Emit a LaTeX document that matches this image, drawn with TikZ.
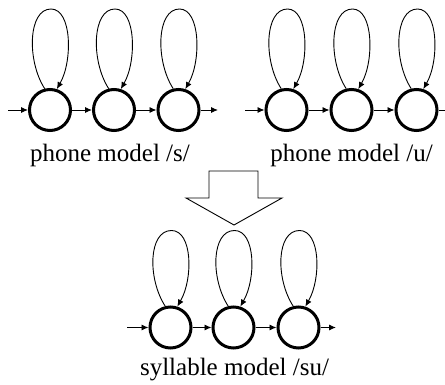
\documentclass[tikz,border=0pt]{standalone}
\usepackage{fontspec}
\setmainfont{Liberation Serif}
\usetikzlibrary{arrows.meta}

\tikzset{
  state/.style={circle, draw, line width=3pt, minimum size=41pt, inner sep=0pt},
  trans/.style={line width=0.9pt, -{Latex[length=7pt,width=6pt]}},
  modellabel/.style={anchor=base, inner sep=0pt, font=\fontsize{25}{30}\selectfont},
}

\begin{document}
\begin{tikzpicture}[x=1pt, y=-1pt]
    \useasboundingbox (0,0) rectangle (445,385);

    % phone model /s/
    \node[state] (s1) at (50,110) {};
    \node[state] (s2) at (114,110) {};
    \node[state] (s3) at (178.5,110) {};
    \coordinate (sin) at (8,110);
    \coordinate (sout) at (218,110);
    \node[modellabel] (slabel) at (110,162) {phone model /s/};

    % phone model /u/
    \node[state] (u1) at (286.5,110) {};
    \node[state] (u2) at (351.5,110) {};
    \node[state] (u3) at (416.5,110) {};
    \coordinate (uin) at (245,110);
    \coordinate (uout) at (456,110);
    \node[modellabel] (ulabel) at (351.5,162) {phone model /u/};

    % syllable model /su/
    \node[state] (su1) at (170.5,327.5) {};
    \node[state] (su2) at (233.5,327.5) {};
    \node[state] (su3) at (298.5,327.5) {};
    \coordinate (suin) at (127,327.5);
    \coordinate (suout) at (336,327.5);
    \node[modellabel] (sulabel) at (234.5,375) {syllable model /su/};

    % transitions
    \foreach \a/\b in {sin/s1, s1/s2, s2/s3, s3/sout,
                       uin/u1, u1/u2, u2/u3, u3/uout,
                       suin/su1, su1/su2, su2/su3, su3/suout}
        \draw[trans] (\a) -- (\b);

    % self loops
    \foreach \n/\h in {s1/101, s2/101, s3/101, u1/101, u2/101, u3/101,
                       su1/97, su2/97, su3/97}
        \draw[trans] (\n.104) .. controls +(-18,-28) and +(-23,0) .. ([shift={(1,-\h)}]\n.center)
            .. controls +(21,0) and +(16,-28) .. (\n.72);

    % merge arrow
    \draw[line width=0.9pt] (209,171) -- (258,171) -- (258,198) -- (282,198) -- (234,225)
        -- (186,198) -- (209,198) -- cycle;
\end{tikzpicture}
\end{document}
